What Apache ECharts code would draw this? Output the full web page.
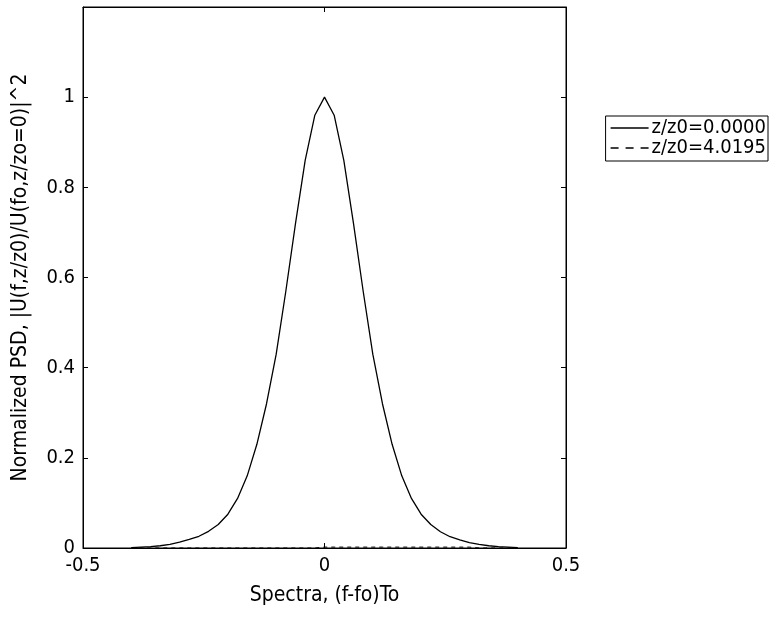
<!DOCTYPE html>
<html>
<head>
<meta charset="utf-8">
<script src="https://cdn.jsdelivr.net/npm/echarts@6/dist/echarts.min.js"></script>
<style>
  html, body { margin: 0; padding: 0; background: #fff; }
  #chart { width: 769px; height: 617px; }
</style>
</head>
<body>
<div id="chart"></div>
<script>
// spectra axis, (f-fo)To
const freqs = [-0.40, -0.38, -0.36, -0.34, -0.32, -0.30, -0.28, -0.26, -0.24, -0.22, -0.20,
  -0.18, -0.16, -0.14, -0.12, -0.10, -0.08, -0.06, -0.04, -0.02, 0,
  0.02, 0.04, 0.06, 0.08, 0.10, 0.12, 0.14, 0.16, 0.18, 0.20,
  0.22, 0.24, 0.26, 0.28, 0.30, 0.32, 0.34, 0.36, 0.38, 0.40]
// z/z0 = 0.0000
const psdStart = [0.001, 0.002, 0.003, 0.005, 0.008, 0.013, 0.019, 0.026, 0.037, 0.052, 0.075,
  0.11, 0.16, 0.23, 0.32, 0.43, 0.57, 0.72, 0.86, 0.96, 1.0,
  0.96, 0.86, 0.72, 0.57, 0.43, 0.32, 0.23, 0.16, 0.11, 0.075,
  0.052, 0.036, 0.025, 0.018, 0.012, 0.008, 0.005, 0.003, 0.002, 0.001]
// z/z0 = 4.0195 (sits on the baseline)
const psdEnd = [0, 0, 0, 0, 0, 0, 0, 0, 0, 0, 0,
  0, 0, 0, 0, 0, 0, 0, 0, 0, 0.002,
  0.002, 0.002, 0.002, 0.002, 0.002, 0.002, 0.002, 0.002, 0.002, 0.002,
  0.002, 0.002, 0.002, 0.002, 0.002, 0, 0, 0, 0, 0]
const xTicks = [-0.5, 0, 0.5]
const yTicks = [0, 0.2, 0.4, 0.6, 0.8, 1]
const seriesNames = ['z/z0=0.0000', 'z/z0=4.0195']

const font = '"DejaVu Sans Condensed", "Liberation Sans Narrow", "Liberation Sans", sans-serif'

let myChart = echarts.init(document.getElementById('chart'))

let pair = (xs, ys) => xs.map((x, i) => [x, ys[i]])

let tickOnly = { inside: true, length: 5, lineStyle: { color: '#000' } }

let option = {
  animation: false,
  backgroundColor: '#fff',
  grid: {
    left: 83, right: 203, top: 7, bottom: 69,
    outerBoundsMode: 'none',
    containLabel: false,
    show: true, borderColor: '#000', borderWidth: 1
  },
  legend: {
    orient: 'vertical',
    right: 1, top: 116,
    padding: [2, 2, 3, 5],
    itemGap: 0,
    itemWidth: 38, itemHeight: 18,
    borderColor: '#000', borderWidth: 1,
    backgroundColor: '#fff',
    textStyle: { fontFamily: font, fontSize: 20, color: '#000', padding: [0, 0, 0, -2] },
    data: [
      { name: seriesNames[0], icon: 'path://M0,0H38V1.6H0Z' },
      { name: seriesNames[1], icon: 'path://M0,0H8V1.6H0Z M15,0H23V1.6H15Z M30,0H38V1.6H30Z' }
    ]
  },
  xAxis: [
    {
      type: 'value',
      min: -0.5, max: 0.5, interval: 0.5,
      name: 'Spectra, (f-fo)To',
      nameLocation: 'middle', nameGap: 37,
      nameTextStyle: { fontFamily: font, fontSize: 21, color: '#000' },
      axisLine: { show: true, onZero: false, lineStyle: { color: '#000' } },
      axisTick: tickOnly,
      axisLabel: {
        fontFamily: font, fontSize: 20, color: '#000', margin: 8,
        formatter: v => xTicks.includes(v) ? String(v) : ''
      },
      splitLine: { show: false }
    },
    {
      type: 'value', position: 'top',
      min: -0.5, max: 0.5, interval: 0.5,
      axisLine: { show: true, onZero: false, lineStyle: { color: '#000' } },
      axisTick: tickOnly,
      axisLabel: { show: false },
      splitLine: { show: false }
    }
  ],
  yAxis: [
    {
      type: 'value',
      min: 0, max: 1.2, interval: 0.2,
      name: 'Normalized PSD, |U(f,z/z0)/U(fo,z/zo=0)|^2',
      nameLocation: 'middle', nameGap: 52,
      nameTextStyle: { fontFamily: font, fontSize: 21, color: '#000' },
      axisLine: { show: true, onZero: false, lineStyle: { color: '#000' } },
      axisTick: tickOnly,
      axisLabel: {
        fontFamily: font, fontSize: 20, color: '#000', margin: 8,
        formatter: v => {
          let t = yTicks.find(y => Math.abs(y - v) < 1e-9)
          return t === undefined ? '' : String(t)
        }
      },
      splitLine: { show: false }
    },
    {
      type: 'value', position: 'right',
      min: 0, max: 1.2, interval: 0.2,
      axisLine: { show: true, onZero: false, lineStyle: { color: '#000' } },
      axisTick: tickOnly,
      axisLabel: { show: false },
      splitLine: { show: false }
    }
  ],
  series: [
    {
      name: seriesNames[0],
      type: 'line',
      symbol: 'none',
      lineStyle: { color: '#000', width: 1.3, type: 'solid' },
      itemStyle: { color: '#000' },
      data: pair(freqs, psdStart),
      z: 3
    },
    {
      name: seriesNames[1],
      type: 'line',
      symbol: 'none',
      lineStyle: { color: '#000', width: 1, type: [4, 4] },
      itemStyle: { color: '#000' },
      data: pair(freqs, psdEnd),
      z: 2
    }
  ]
}

myChart.setOption(option)
</script>
</body>
</html>
